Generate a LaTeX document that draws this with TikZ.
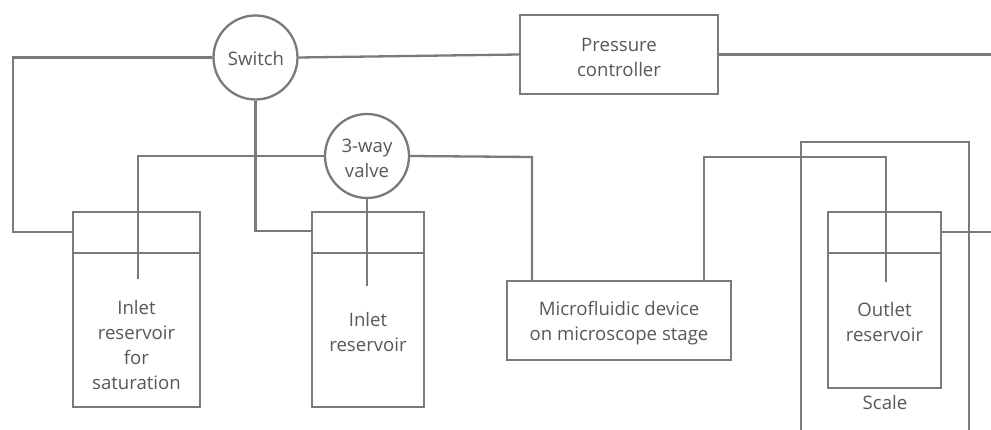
\documentclass[tikz,border=0pt]{standalone}
\usepackage{fontspec}
\setmainfont{Open Sans}
\definecolor{ln}{RGB}{122,122,122}
\definecolor{tx}{RGB}{88,88,88}
\begin{document}
\begin{tikzpicture}[x=1pt,y=-1pt,color=ln,line width=2.3pt,
  lbl/.style={text=tx,font=\fontsize{18.6}{25}\selectfont,align=center,inner sep=0pt},
  boxnode/.style={draw=ln,rectangle,inner sep=0pt},
  circnode/.style={draw=ln,circle,inner sep=0pt,minimum size=84pt}]
\clip (0,0) rectangle (991,430);
\fill[white] (0,0) rectangle (991,430);

% nodes
\node[circnode] (sw) at (255.5,57.5) {};
\node[boxnode,minimum width=198pt,minimum height=79pt] (pc) at (619,54.5) {};
\node[circnode] (vl) at (367,156) {};
\node[boxnode,minimum width=127pt,minimum height=195pt] (r1) at (136.5,309.5) {};
\node[boxnode,minimum width=112pt,minimum height=195pt] (r2) at (368,309.5) {};
\node[boxnode,minimum width=224pt,minimum height=79pt] (mf) at (619,320.5) {};
\node[boxnode,minimum width=168pt,minimum height=300pt] (sc) at (885,292) {};
\node[boxnode,minimum width=113pt,minimum height=176pt] (out) at (884.5,300) {};

% labels
\node[lbl] (tsw) at (256,58.5) {Switch};
\node[lbl] (tpc) at (619,57) {Pressure\\controller};
\node[lbl] (tvl) at (367,158) {3-way\\valve};
\node[lbl] (tmf) at (619,323) {Microfluidic device\\on microscope stage};
\node[lbl] (t1) at (136.5,345) {Inlet\\reservoir\\for\\saturation};
\node[lbl] (t2) at (368,332) {Inlet\\reservoir};
\node[lbl] (t3) at (884.5,322.5) {Outlet\\reservoir};
\node[lbl] (t4) at (885,403) {Scale};

% coordinates
\coordinate (lid) at (0,253);
\coordinate (a1) at (13,232);
\coordinate (a2) at (255.5,231);
\coordinate (b1) at (138,279);
\coordinate (b2) at (532,157);
\coordinate (b3) at (367,286);
\coordinate (c1) at (704,157);
\coordinate (c2) at (886,282);
\coordinate (e1) at (991,54.5);
\coordinate (e2) at (991,232);

% reservoir lids
\draw (lid -| r1.west) -- (lid -| r1.east);
\draw (lid -| r2.west) -- (lid -| r2.east);
\draw (lid -| out.west) -- (lid -| out.east);

% connectors
\draw (sw.west) -| (a1) -- (a1 -| r1.west);
\draw (sw.south) -- (a2) -- (a2 -| r2.west);
\draw (sw.east) -- (pc.west);
\draw (pc.east) -- (e1);
\draw (vl.west) -| (b1);
\draw (vl.east) -- (b2) -- (b2 |- mf.north);
\draw (vl.south) -- (b3);
\draw (c1 |- mf.north) -- (c1) -| (c2);
\draw (e2 -| out.east) -- (e2);
\end{tikzpicture}
\end{document}
